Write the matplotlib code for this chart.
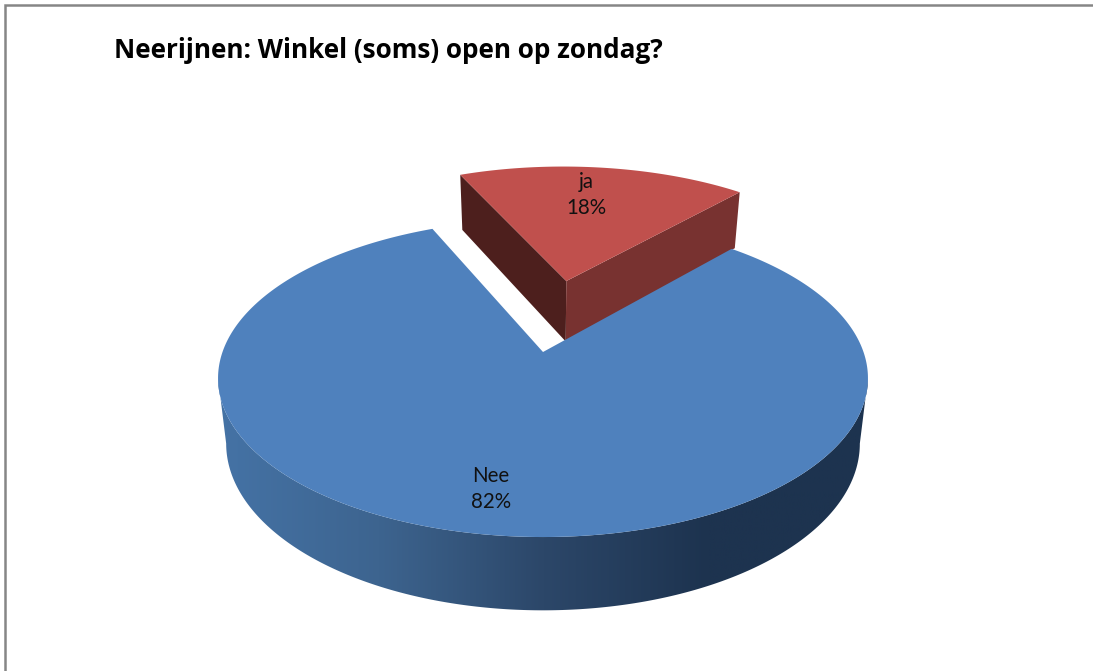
import numpy as np
import matplotlib
matplotlib.use("Agg")
import matplotlib.pyplot as plt
from matplotlib.colors import LinearSegmentedColormap
from matplotlib.patches import Polygon

title = "Neerijnen: Winkel (soms) open op zondag?"
labels = ["Nee", "ja"]
values = [82, 18]
label_pos = [(491, 489), (586, 195)]

# pie projection, in image pixels
CX, CY = 543, 352
K = 0.165
A = 154.5
B = 320.5
EXPLODE = 0.503
SIDE_SCALE = 0.975
START = 48.6

TOP_BLUE = "#4f81bd"
RED_TOP = "#c0504d"
RED_LEFT = "#4d1f1d"
RED_RIGHT = "#783230"
GRADIENT = ["#4573a6", "#3d648f", "#2c4769", "#1d334f", "#1d334f"]


def top_plane(u, v):
    w = 1 + K * v
    return CX + B * u / w, CY - A * v / w


def bottom_plane(u, v):
    w = 1 + K * v
    depth = 17 + 47 / w
    return CX + SIDE_SCALE * B * u / w, CY - A * v / w + depth


def arc(start, end, n=200):
    t = np.radians(np.linspace(start, end, n))
    return np.cos(t), np.sin(t)


def poly(plane, u, v):
    x, y = plane(np.asarray(u, dtype=float), np.asarray(v, dtype=float))
    return np.column_stack([x, y])


fig = plt.figure(figsize=(10.93, 6.71), dpi=100)
ax = fig.add_axes([0, 0, 1, 1])

span_ja = values[1] / sum(values) * 360
end_ja = START + span_ja
mid = np.radians(START + span_ja / 2)
du, dv = EXPLODE * np.cos(mid), EXPLODE * np.sin(mid)

# exploded slice: inner walls first, then its top
ul, vl = np.cos(np.radians(end_ja)) + du, np.sin(np.radians(end_ja)) + dv
ur, vr = np.cos(np.radians(START)) + du, np.sin(np.radians(START)) + dv
ax.add_patch(Polygon(np.vstack([poly(top_plane, [du, ul], [dv, vl]),
                                poly(bottom_plane, [ul, du], [vl, dv])]),
                     fc=RED_LEFT, ec="none"))
ax.add_patch(Polygon(np.vstack([poly(top_plane, [du, ur], [dv, vr]),
                                poly(bottom_plane, [ur, du], [vr, dv])]),
                     fc=RED_RIGHT, ec="none"))
u, v = arc(START, end_ja)
ax.add_patch(Polygon(np.vstack([[top_plane(du, dv)], poly(top_plane, u + du, v + dv)]),
                     fc=RED_TOP, ec="none"))

# outer wall of the big slice, from widest point to widest point
widest = np.degrees(np.arcsin(K))
u, v = arc(180 + widest, 360 - widest, 300)
wall = Polygon(np.vstack([poly(top_plane, u, v), poly(bottom_plane, u, v)[::-1]]),
               fc="none", ec="none")
ax.add_patch(wall)
cmap = LinearSegmentedColormap.from_list("wall", GRADIENT)
im = ax.imshow(np.linspace(0, 1, 256).reshape(1, -1), cmap=cmap, aspect="auto",
               extent=[215, 872, 640, 350], zorder=1)
im.set_clip_path(wall)

# top of the big slice
u, v = arc(end_ja, START + 360, 400)
ax.add_patch(Polygon(np.vstack([[top_plane(0, 0)], poly(top_plane, u, v)]),
                     fc=TOP_BLUE, ec="none", zorder=2))

for name, value, (x, y) in zip(labels, values, label_pos):
    ax.text(x, y, f"{name}\n{value}%", ha="center", va="center", fontsize=14.8,
            family="Lato", color="#111111", linespacing=1.43, zorder=3)

ax.text(114, 50, title, ha="left", va="center", fontsize=18.8, fontweight="bold",
        family="Open Sans", color="black", zorder=3)

# chart frame, open on the right and bottom
ax.plot([5, 5, 1093], [671, 5, 5], color="#868686", lw=1.8, solid_joinstyle="miter")

ax.set_xlim(0, 1093)
ax.set_ylim(671, 0)
ax.axis("off")
fig.savefig("out.png", dpi=100, facecolor="white")
